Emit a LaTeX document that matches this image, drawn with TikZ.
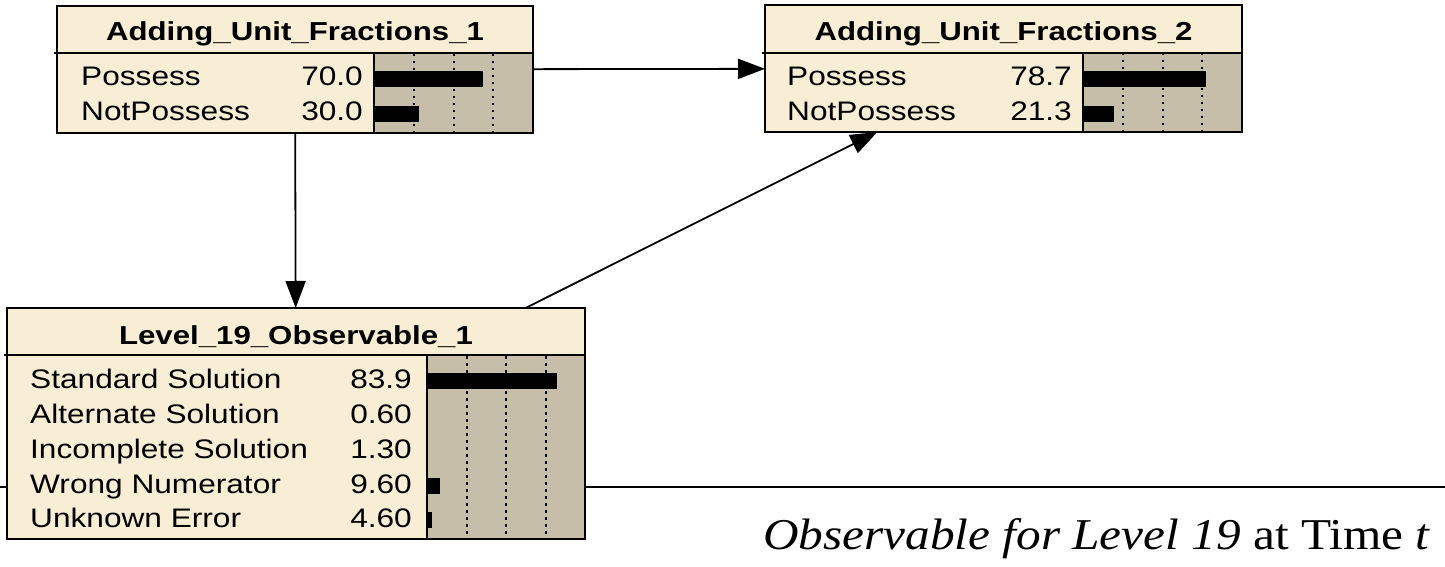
\documentclass[tikz,border=0pt]{standalone}
\usepackage{fontspec}
\setmainfont{Liberation Serif}
\setsansfont{Liberation Sans}
\usetikzlibrary{arrows.meta,calc}

\definecolor{nodecream}{RGB}{248,237,213}
\definecolor{bartan}{RGB}{198,190,169}

% network text is set a little wide
\newcommand\wide[1]{\scalebox{1.18}[1]{#1}}
\newcommand\widetitle[1]{\scalebox{1.2}[1]{#1}}

% one state row: name prefix, baseline, label, printed value, numeric value
\newcommand\beliefrow[5]{%
  \fill[black] (\barx,{#2-15}) rectangle ({max(\barx,\barx+#5*\barw/100-2.5)},{#2+1});
  \node[labeltext] (#1-lab) at (\labx,#2) {\wide{#3}};
  \node[valuetext] (#1-val) at (\valx,#2) {\wide{#4}};
}

% bar panel with quartile grid lines; box width and height given
\newcommand\barpanel[2]{%
  \fill[bartan] (\barx,47) rectangle (#1,#2);
  \foreach \q in {25,50,75}
    \draw[gridline] ({\barx+\q*\barw/100},48) -- ({\barx+\q*\barw/100},#2);
}

\tikzset{
  beliefbox/.style={draw=black, line width=2.2pt, fill=nodecream, rectangle,
    inner sep=0pt, outer sep=0pt, anchor=north west},
  link/.style={line width=1.8pt, -{Triangle[length=27pt,width=20pt]}},
  titletext/.style={anchor=base, inner sep=0pt,
    font=\sffamily\bfseries\fontsize{26}{30}\selectfont},
  labeltext/.style={anchor=base west, inner sep=0pt,
    font=\sffamily\fontsize{26.8}{30}\selectfont},
  valuetext/.style={anchor=base east, inner sep=0pt,
    font=\sffamily\fontsize{26.8}{30}\selectfont},
  gridline/.style={line width=2pt, dash pattern=on 2.5pt off 4.5pt},
  divider/.style={line width=2.2pt},
  paneledge/.style={line width=1.6pt},
  rule/.style={line width=2.7pt},
}

\begin{document}
\begin{tikzpicture}[x=1pt,y=-1pt]
\useasboundingbox (0,0) rectangle (1445,567);

% slide rule running behind the observable node
\draw[rule] (0,487) -- (1445,487);

% ---- Adding_Unit_Fractions_1 ----
\begin{scope}[shift={(57,6)}]
  \def\barx{317}\def\barw{159}\def\labx{24}\def\valx{306}
  \node[beliefbox, minimum width=476pt, minimum height=127pt] (box1) at (0,0) {};
  \barpanel{476}{127}
  \beliefrow{a1r1}{80}{Possess}{70.0}{70}
  \beliefrow{a1r2}{115}{NotPossess}{30.0}{30}
  \draw[paneledge] (\barx,47) -- (\barx,127);
  \draw[divider] (-3,47) -- (476,47);
  \node[titletext] (box1-title) at (238,35) {\widetitle{Adding\_Unit\_Fractions\_1}};
  \draw[line width=2.2pt] (box1.north west) rectangle (box1.south east);
\end{scope}

% ---- Adding_Unit_Fractions_2 ----
\begin{scope}[shift={(765,5)}]
  \def\barx{318}\def\barw{159}\def\labx{22}\def\valx{307}
  \node[beliefbox, minimum width=477pt, minimum height=127pt] (box2) at (0,0) {};
  \barpanel{477}{127}
  \beliefrow{a2r1}{81}{Possess}{78.7}{78.7}
  \beliefrow{a2r2}{116}{NotPossess}{21.3}{21.3}
  \draw[paneledge] (\barx,48) -- (\barx,127);
  \draw[divider] (-3,48) -- (477,48);
  \node[titletext] (box2-title) at (238.5,36) {\widetitle{Adding\_Unit\_Fractions\_2}};
  \draw[line width=2.2pt] (box2.north west) rectangle (box2.south east);
\end{scope}

% ---- Level_19_Observable_1 ----
\begin{scope}[shift={(7,308)}]
  \def\barx{420}\def\barw{158}\def\labx{23}\def\valx{405}
  \node[beliefbox, minimum width=578pt, minimum height=231pt] (box3) at (0,0) {};
  \barpanel{578}{231}
  \beliefrow{o1r1}{80}{Standard Solution}{83.9}{83.9}
  \beliefrow{o1r2}{115}{Alternate Solution}{0.60}{0.6}
  \beliefrow{o1r3}{150}{Incomplete Solution}{1.30}{1.3}
  \beliefrow{o1r4}{185}{Wrong Numerator}{9.60}{9.6}
  \beliefrow{o1r5}{219}{Unknown Error}{4.60}{4.6}
  \draw[paneledge] (\barx,47) -- (\barx,231);
  \draw[divider] (-3,47) -- (578,47);
  \node[titletext] (box3-title) at (289,36) {\widetitle{Level\_19\_Observable\_1}};
  \draw[line width=2.2pt] (box3.north west) rectangle (box3.south east);
\end{scope}

% ---- arcs ----
\draw[link] (box1) -- (box2);
\draw[link] (box1) -- (box3);
\draw[link] (box3) -- (box2);

% ---- caption ----
\node[anchor=base west, inner sep=0pt, font=\fontsize{44}{50}\selectfont] (caption)
  at (763,549) {\scalebox{1.12}[1]{\textit{Observable for Level 19} at Time \textit{t}}};
\end{tikzpicture}
\end{document}
